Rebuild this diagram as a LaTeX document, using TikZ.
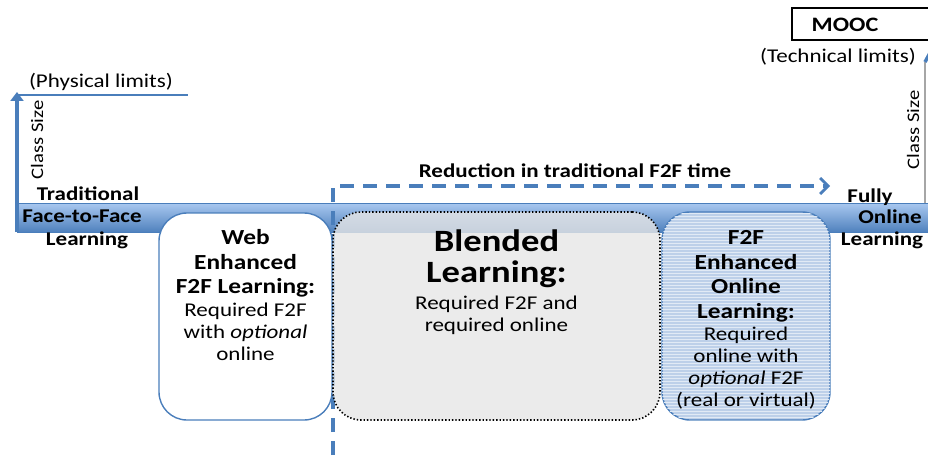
\documentclass[tikz,border=0pt]{standalone}
\usepackage{fontspec}
\setmainfont{Carlito}[FakeStretch=1.18]
\usetikzlibrary{positioning}
\usetikzlibrary{arrows.meta}
\usetikzlibrary{patterns}

\definecolor{bandtop}{HTML}{A9C8F0}
\definecolor{bandbot}{HTML}{4F81BD}
\definecolor{edgeblue}{HTML}{4A7EBB}
\definecolor{greybox}{HTML}{E6E6E6}
\definecolor{f2fblue}{HTML}{BDD0E9}

\tikzset{
  lbl/.style={font=\fontsize{19.5}{22}\selectfont\bfseries, inner sep=0pt},
  plain/.style={font=\fontsize{19.5}{22}\selectfont, inner sep=0pt},
  sizelbl/.style={font=\fontsize{17.5}{20}\selectfont, inner sep=0pt, rotate=90},
  boxtitle/.style={font=\fontsize{21.5}{24.5}\selectfont\bfseries, align=center, inner sep=0pt},
  boxbody/.style={font=\fontsize{19.5}{22}\selectfont, align=center, inner sep=0pt},
  roundbox/.style={rounded corners=28pt, minimum width=#1, inner sep=0pt, line width=1.4pt},
  axisline/.style={draw=edgeblue, line width=3.5pt},
  dashline/.style={draw=edgeblue, line width=3.2pt, dash pattern=on 14pt off 9pt}
}

\begin{document}
\begin{tikzpicture}[x=1pt, y=-1pt]
  \useasboundingbox (0,0) rectangle (928,457);

  % band along the continuum
  \shade[top color=bandtop, bottom color=bandbot, draw=edgeblue, line width=1pt]
    (17,203) rectangle (935,232);

  % class size axes
  \coordinate (leftbase) at (17,232);
  \coordinate (lefttop) at (17,92);
  \coordinate (physend) at (188,95);
  \draw[axisline, -{Triangle[length=9pt, width=13pt]}] (leftbase) -- (lefttop);
  \draw[draw=edgeblue, line width=2.2pt] (17,95) -- (physend);
  \node[plain] (phys) at (101,82) {(Physical limits)};
  \node[sizelbl] (sizeleft) at (37,140) {Class Size};

  \coordinate (rightbase) at (925,203);
  \coordinate (rightbend) at (925,62);
  \coordinate (rightend) at (936,42);
  \draw[draw=gray!70, line width=1.4pt] (rightbase) -- (rightbend);
  \draw[axisline] (rightbend) -- (rightend);
  \node[sizelbl] (sizeright) at (913,130) {Class Size};

  \node[draw, line width=1.6pt, minimum width=150pt, minimum height=32pt, inner sep=0pt] (mooc) at (867,24) {};
  \node[lbl, font=\fontsize{20.5}{22}\selectfont\bfseries] (mooctext) at (845,25) {MOOC};
  \node[plain] (tech) at (838,57) {(Technical limits)};

  % end labels
  \node[lbl] (trad) at (88,194) {Traditional};
  \node[lbl] (f2f) at (82,216) {Face-to-Face};
  \node[lbl] (tradlearn) at (87,240) {Learning};
  \node[lbl] (fully) at (870,197) {Fully};
  \node[lbl] (online) at (890,217) {Online};
  \node[lbl] (onlinelearn) at (882,240) {Learning};

  % reduction arrow
  \coordinate (dashstart) at (333,455);
  \coordinate (dashcorner) at (333,186);
  \coordinate (dashend) at (830,186);
  \draw[dashline, -{Straight Barb[length=8pt, width=16pt, line width=2.8pt]}]
    (dashstart) -- (dashcorner) -- (dashend);
  \node[lbl] (reduction) at (575,171) {Reduction in traditional F2F time};

  % the three boxes
  \node[roundbox=173pt, minimum height=207pt, draw=edgeblue, fill=white] (web) at (245.5,316.5) {};
  \node[roundbox=327pt, minimum height=208pt, draw=black, dotted, line width=1.6pt,
        fill=greybox, fill opacity=0.8] (blended) at (496.5,316) {};
  \node[roundbox=168pt, minimum height=208pt, draw=edgeblue, fill=f2fblue,
        postaction={pattern=horizontal lines, pattern color=white!55!f2fblue}] (f2fonline) at (746,316) {};

  \node[boxtitle, below=17pt of web.north] (webtitle) {Web\\Enhanced\\F2F Learning:};
  \node[boxbody, below=5pt of webtitle] (webbody) {Required F2F\\with \textit{optional}\\online};

  \node[boxtitle, font=\fontsize{31}{31.5}\selectfont\bfseries, below=18pt of blended.north] (blendtitle) {Blended\\Learning:};
  \node[boxbody, below=8pt of blendtitle] (blendbody) {Required F2F and\\required online};

  \node[boxtitle, below=19pt of f2fonline.north] (f2ftitle) {F2F\\Enhanced\\Online\\Learning:};
  \node[boxbody, below=5pt of f2ftitle] (f2fbody) {Required\\online with\\\textit{optional} F2F\\(real or virtual)};
\end{tikzpicture}
\end{document}
